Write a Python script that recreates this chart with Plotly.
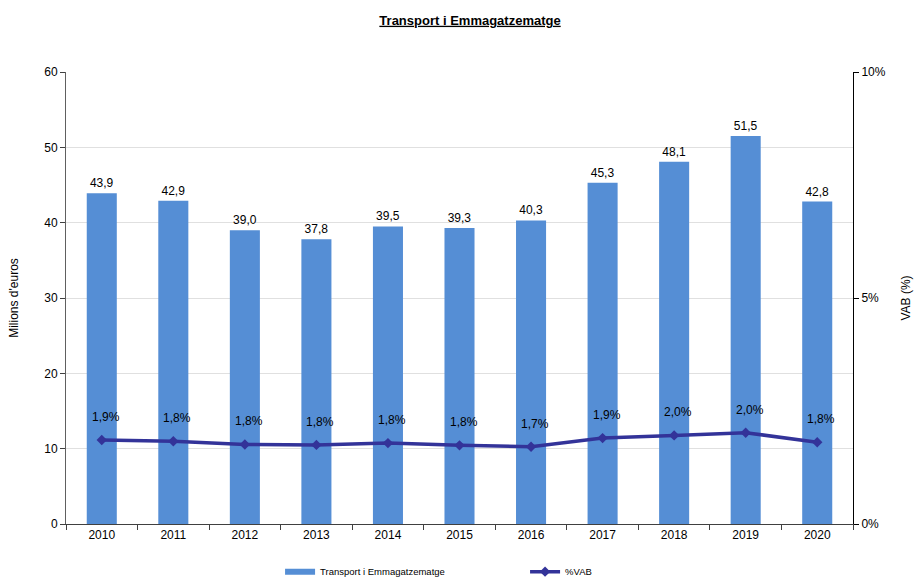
import plotly.graph_objects as go

years = ["2010", "2011", "2012", "2013", "2014", "2015", "2016", "2017", "2018", "2019", "2020"]
valors = [43.9, 42.9, 39.0, 37.8, 39.5, 39.3, 40.3, 45.3, 48.1, 51.5, 42.8]
vab_pct = [1.86, 1.83, 1.76, 1.75, 1.79, 1.74, 1.71, 1.90, 1.96, 2.02, 1.81]
vab_labels = ["1,9%", "1,8%", "1,8%", "1,8%", "1,8%", "1,8%", "1,7%", "1,9%", "2,0%", "2,0%", "1,8%"]
bar_labels = [f"{v:.1f}".replace(".", ",") for v in valors]

FONT = "Liberation Sans, Arial, sans-serif"
BAR_COLOR = "#558ED5"
LINE_COLOR = "#333399"

fig = go.Figure()
fig.add_trace(go.Bar(
    x=years, y=valors, name="Transport i Emmagatzematge",
    marker=dict(color=BAR_COLOR, line=dict(width=0)),
    text=bar_labels, textposition="outside", cliponaxis=False,
    textfont=dict(size=12, color="black", family=FONT),
    width=0.42, yaxis="y", showlegend=False,
))
# legend-only entry drawn as a wide bar swatch
fig.add_trace(go.Scatter(
    x=[None], y=[None], name="Transport i Emmagatzematge", mode="lines",
    line=dict(color=BAR_COLOR, width=6), yaxis="y",
))
fig.add_trace(go.Scatter(
    x=years, y=[v / 100 for v in vab_pct], name="%VAB", mode="lines+markers",
    line=dict(color=LINE_COLOR, width=3.5),
    marker=dict(symbol="diamond", size=8, color=LINE_COLOR),
    yaxis="y2",
))

for i, (v, lab) in enumerate(zip(vab_pct, vab_labels)):
    fig.add_annotation(x=i, xref="x", y=v / 100, yref="y2", text=lab, showarrow=False,
                       yshift=23, xshift=4, font=dict(size=12, color="black", family=FONT))

fig.update_layout(
    width=915, height=578,
    margin=dict(l=66, r=62, t=72, b=54, autoexpand=False),
    plot_bgcolor="white", paper_bgcolor="white",
    font=dict(family=FONT, size=12, color="black"),
    separators=",.",
    title=dict(text="<b>Transport i Emmagatzematge</b>", x=0.5137, xanchor="center",
               y=0.965, yanchor="middle",
               font=dict(size=13, color="black", family=FONT, lineposition="under")),
    showlegend=True,
    legend=dict(orientation="h", x=0.272, xanchor="left", yref="container", y=0.011,
                yanchor="middle",
                font=dict(size=9.5, family=FONT, color="black"), entrywidth=200,
                entrywidthmode="pixels", bgcolor="rgba(0,0,0,0)"),
    xaxis=dict(type="category", range=[-0.5, 10.5], showline=True, linecolor="#404040",
               linewidth=1, ticks="outside", tickson="boundaries", ticklen=5,
               tickcolor="#404040", showgrid=False, tickangle=0, automargin=False,
               tickfont=dict(size=12, color="black")),
    yaxis=dict(range=[0, 60], dtick=10, showline=True, linecolor="#606060", linewidth=1,
               ticks="outside", ticklen=5, tickcolor="#404040", automargin=False,
               showgrid=True, gridcolor="#E0E0E0", gridwidth=1, zeroline=False,
               title=dict(text="Milions d'euros", font=dict(size=12, color="black"), standoff=23),
               tickfont=dict(size=12, color="black")),
    yaxis2=dict(range=[0, 0.1], dtick=0.05, tickformat=".0%", overlaying="y", side="right",
                showline=True, linecolor="black", linewidth=1, ticks="outside", ticklen=5,
                tickcolor="black", showgrid=False, zeroline=False, automargin=False,
                title=dict(text="VAB (%)", font=dict(size=12, color="black"), standoff=16),
                tickfont=dict(size=12, color="black")),
)

fig.write_html(
    "out.html",
    config={"displayModeBar": False},
    post_script="document.body.style.margin='0';document.body.style.overflow='hidden';",
)
